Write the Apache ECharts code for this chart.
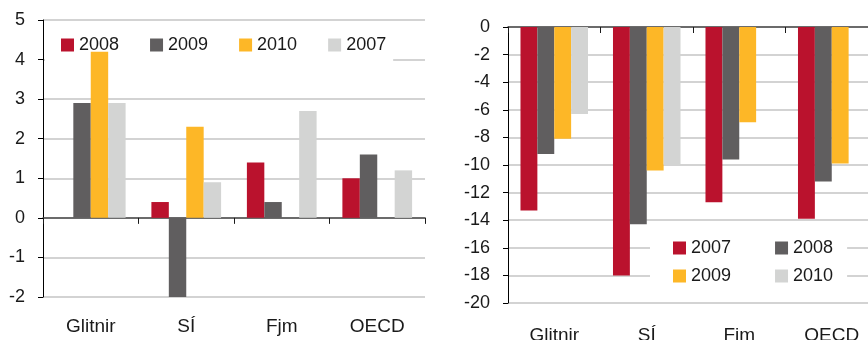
<!DOCTYPE html>
<html>
<head>
<meta charset="utf-8">
<script src="https://cdn.jsdelivr.net/npm/echarts@6/dist/echarts.min.js"></script>
<style>
  html, body { margin: 0; padding: 0; background: #fff; }
  #wrap { position: relative; width: 868px; height: 340px; overflow: hidden; }
  #left { position: absolute; left: 0; top: 0; width: 440px; height: 340px; }
  #right { position: absolute; left: 440px; top: 0; width: 428px; height: 340px; }
</style>
</head>
<body>
<div id="wrap">
  <div id="left"></div>
  <div id="right"></div>
</div>
<script>
// Shared categories
const categories = ['Glitnir', 'SÍ', 'Fjm', 'OECD'];

// Left panel: series in drawing order
const leftYears = ['2008', '2009', '2010', '2007'];
const left2008 = [null, 0.4, 1.4, 1.0];
const left2009 = [2.9, -2.0, 0.4, 1.6];
const left2010 = [4.2, 2.3, null, null];
const left2007 = [2.9, 0.9, 2.7, 1.2];
const leftAxis = { min: -2, max: 5, step: 1 };

// Right panel
const rightYears = ['2007', '2008', '2009', '2010'];
const right2007 = [-13.3, -18.0, -12.7, -13.9];
const right2008 = [-9.2, -14.3, -9.6, -11.2];
const right2009 = [-8.1, -10.4, -6.9, -9.9];
const right2010 = [-6.3, -10.0, null, null];
const rightAxis = { min: -20, max: 0, step: 2 };

const FONT = '"Liberation Sans", Arial, sans-serif';
const TEXT = '#1a1a1a';
const RED = '#BA122D', DARK = '#605E5F', ORANGE = '#FDB727', LIGHT = '#D3D4D3';

function bar(name, data, color) {
  return {
    name: name, type: 'bar', data: data, xAxisIndex: 0,
    barGap: 0, barCategoryGap: '27%',
    itemStyle: { color: color },
    z: 2
  };
}

function legendText() {
  return { fontSize: 18, color: TEXT, fontFamily: FONT };
}

// Axis 0 carries the category names at the bottom edge;
// axis 1 draws the baseline and its ticks at value zero.
function xAxes(labelMargin) {
  return [
    {
      type: 'category', data: categories, position: 'bottom',
      axisLine: { show: false, onZero: false },
      axisTick: { show: false },
      axisLabel: { fontSize: 19, color: TEXT, fontFamily: FONT, margin: labelMargin }
    },
    {
      type: 'category', data: categories, position: 'bottom',
      axisLine: { show: true, onZero: true, lineStyle: { color: '#4a4a4a', width: 1.5 } },
      axisTick: { show: true, length: 6, lineStyle: { color: TEXT } },
      axisLabel: { show: false }
    }
  ];
}

function yAxis(range) {
  return {
    type: 'value', min: range.min, max: range.max, interval: range.step,
    axisLine: { show: true, lineStyle: { color: '#000', width: 1 } },
    axisTick: { show: true, length: 5, lineStyle: { color: '#000' } },
    axisLabel: { fontSize: 18, color: TEXT, fontFamily: FONT, margin: 18, padding: [0, 0, 5, 0] },
    splitLine: { show: true, lineStyle: { color: '#c4c4c4', width: 1.5 } }
  };
}

const leftChart = echarts.init(document.getElementById('left'), null, { renderer: 'canvas' });
leftChart.setOption({
  animation: false,
  textStyle: { fontFamily: FONT },
  grid: { left: 43, top: 20, width: 382, height: 277, outerBoundsMode: 'none', containLabel: false },
  legend: {
    data: leftYears, left: 45, top: 27,
    padding: [9, 7, 12, 16],
    itemWidth: 13, itemHeight: 13, itemGap: 31, icon: 'rect',
    backgroundColor: '#fff', z: 1,
    textStyle: legendText()
  },
  xAxis: xAxes(20),
  yAxis: yAxis(leftAxis),
  series: [
    bar(leftYears[0], left2008, RED),
    bar(leftYears[1], left2009, DARK),
    bar(leftYears[2], left2010, ORANGE),
    bar(leftYears[3], left2007, LIGHT)
  ]
});

const rightChart = echarts.init(document.getElementById('right'), null, { renderer: 'canvas' });
rightChart.setOption({
  animation: false,
  textStyle: { fontFamily: FONT },
  grid: { left: 68, top: 27, width: 370, height: 276, outerBoundsMode: 'none', containLabel: false },
  legend: [
    {
      data: rightYears.slice(0, 2), left: 210, top: 226,
      padding: [13, 14, 5, 23],
      itemWidth: 13, itemHeight: 13, itemGap: 44, icon: 'rect',
      backgroundColor: '#fff', z: 1,
      textStyle: legendText()
    },
    {
      data: rightYears.slice(2, 4), left: 210, top: 262,
      padding: [5, 14, 6, 23],
      itemWidth: 13, itemHeight: 13, itemGap: 44, icon: 'rect',
      backgroundColor: '#fff', z: 1,
      textStyle: legendText()
    }
  ],
  xAxis: xAxes(23),
  yAxis: yAxis(rightAxis),
  series: [
    bar(rightYears[0], right2007, RED),
    bar(rightYears[1], right2008, DARK),
    bar(rightYears[2], right2009, ORANGE),
    bar(rightYears[3], right2010, LIGHT)
  ]
});
</script>
</body>
</html>
